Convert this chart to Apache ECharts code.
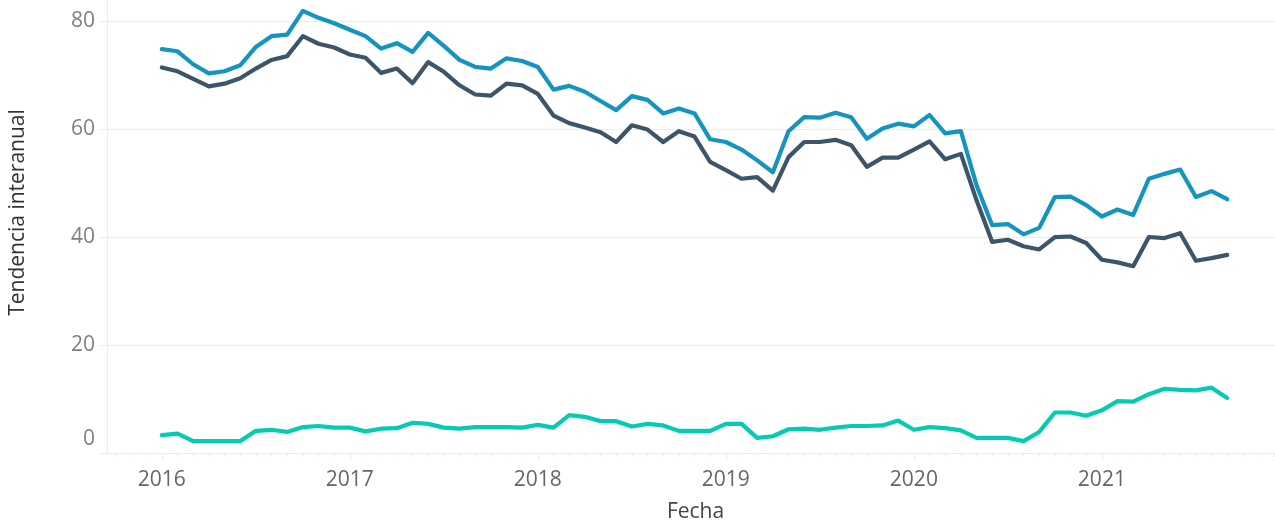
<!DOCTYPE html>
<html>
<head>
<meta charset="utf-8">
<script src="https://cdn.jsdelivr.net/npm/echarts@6/dist/echarts.min.js"></script>
<style>
  html, body { margin: 0; padding: 0; background: #ffffff; }
  #chart { width: 1275px; height: 523px; }
</style>
</head>
<body>
<div id="chart"></div>
<script>
// Monthly observations, Jan 2016 – Sep 2021
const months = [
  '2016-01','2016-02','2016-03','2016-04','2016-05','2016-06','2016-07','2016-08','2016-09','2016-10','2016-11','2016-12',
  '2017-01','2017-02','2017-03','2017-04','2017-05','2017-06','2017-07','2017-08','2017-09','2017-10','2017-11','2017-12',
  '2018-01','2018-02','2018-03','2018-04','2018-05','2018-06','2018-07','2018-08','2018-09','2018-10','2018-11','2018-12',
  '2019-01','2019-02','2019-03','2019-04','2019-05','2019-06','2019-07','2019-08','2019-09','2019-10','2019-11','2019-12',
  '2020-01','2020-02','2020-03','2020-04','2020-05','2020-06','2020-07','2020-08','2020-09','2020-10','2020-11','2020-12',
  '2021-01','2021-02','2021-03','2021-04','2021-05','2021-06','2021-07','2021-08','2021-09'
];

const serieAzul = [
  74.8, 74.4, 72.0, 70.3, 70.7, 71.8, 75.2, 77.2, 77.5, 81.9, 80.6, 79.6,
  78.4, 77.2, 74.9, 75.9, 74.3, 77.8, 75.4, 72.8, 71.5, 71.2, 73.1, 72.6,
  71.5, 67.3, 68.0, 66.9, 65.2, 63.5, 66.1, 65.4, 62.9, 63.8, 62.9, 58.1,
  57.6, 56.2, 54.2, 52.0, 59.6, 62.2, 62.1, 63.0, 62.2, 58.2, 60.1, 61.0,
  60.5, 62.6, 59.2, 59.6, 49.6, 42.2, 42.4, 40.5, 41.7, 47.4, 47.5, 45.9,
  43.8, 45.1, 44.1, 50.8, 51.7, 52.5, 47.4, 48.5, 47.0
];

const serieGris = [
  71.4, 70.7, 69.3, 67.9, 68.4, 69.4, 71.2, 72.8, 73.5, 77.2, 75.8, 75.1,
  73.8, 73.2, 70.4, 71.2, 68.5, 72.4, 70.6, 68.1, 66.4, 66.2, 68.4, 68.1,
  66.5, 62.5, 61.1, 60.3, 59.4, 57.6, 60.7, 59.9, 57.6, 59.6, 58.6, 53.9,
  52.4, 50.8, 51.1, 48.6, 54.8, 57.6, 57.6, 58.0, 57.0, 53.0, 54.7, 54.7,
  56.2, 57.7, 54.4, 55.4, 46.8, 39.1, 39.5, 38.3, 37.7, 40.0, 40.1, 38.9,
  35.8, 35.3, 34.6, 40.0, 39.8, 40.7, 35.6, 36.1, 36.7
];

const serieVerde = [
  3.3, 3.6, 2.2, 2.2, 2.2, 2.2, 4.1, 4.3, 3.9, 4.8, 5.0, 4.7,
  4.7, 4.0, 4.5, 4.6, 5.6, 5.4, 4.7, 4.5, 4.8, 4.8, 4.8, 4.7,
  5.2, 4.7, 7.0, 6.7, 5.9, 5.9, 4.9, 5.4, 5.1, 4.1, 4.1, 4.1,
  5.4, 5.4, 2.8, 3.1, 4.4, 4.5, 4.3, 4.7, 5.0, 5.0, 5.1, 6.0,
  4.3, 4.8, 4.6, 4.2, 2.8, 2.8, 2.8, 2.2, 3.9, 7.5, 7.5, 6.9,
  7.9, 9.6, 9.5, 10.9, 11.9, 11.7, 11.6, 12.1, 10.2
];

const yearLabels = ['2016', '2017', '2018', '2019', '2020', '2021'];
const yTickValues = [0, 20, 40, 60, 80];
const yGridValues = [20, 40, 60, 80];

// months are placed on a numeric axis: 0 = Jan 2016
const baseYear = 2016;
function monthIndex(s) {
  const parts = s.split('-').map(Number);
  return (parts[0] - baseYear) * 12 + (parts[1] - 1);
}
const xs = months.map(monthIndex);
const pair = vals => vals.map((v, i) => [xs[i], v]);

const yearTickPos = yearLabels.map(y => (Number(y) - baseYear) * 12);
const monthTickPos = [];
for (let m = -3; m <= 71; m++) monthTickPos.push(m);

const X_MIN = -3.5, X_MAX = 71.05;
const FONT = "'Open Sans', sans-serif";
const GRID = '#ececec';

const chart = echarts.init(document.getElementById('chart'), null, { renderer: 'canvas' });

const lineStyle = color => ({ color: color, width: 4.2, cap: 'round', join: 'round' });

chart.setOption({
  animation: false,
  backgroundColor: '#ffffff',
  grid: { left: 107, right: 0, top: 0, bottom: 70, containLabel: false, outerBoundsMode: 'none' },
  xAxis: [
    {
      type: 'value',
      min: X_MIN,
      max: X_MAX,
      position: 'bottom',
      name: 'Fecha',
      nameLocation: 'middle',
      nameGap: 49,
      nameTextStyle: { fontFamily: FONT, fontSize: 21, color: '#444444', padding: [0, 0, 0, 9] },
      axisLine: { show: true, onZero: false, lineStyle: { color: GRID, width: 1 } },
      axisTick: { show: true, customValues: monthTickPos, length: 4, lineStyle: { color: GRID, width: 1 } },
      axisLabel: {
        show: true,
        customValues: yearTickPos,
        margin: 17,
        fontFamily: FONT,
        fontSize: 21,
        color: '#666666',
        formatter: v => String(baseYear + Math.round(v / 12))
      },
      splitLine: { show: false }
    },
    {
      // longer ticks on year boundaries
      type: 'value',
      min: X_MIN,
      max: X_MAX,
      position: 'bottom',
      axisLine: { show: false, onZero: false },
      axisTick: { show: true, customValues: yearTickPos, length: 7, lineStyle: { color: GRID, width: 1 } },
      axisLabel: { show: false },
      splitLine: { show: false }
    }
  ],
  yAxis: {
    type: 'value',
    min: 0,
    max: 83.9,
    name: 'Tendencia interanual',
    nameLocation: 'middle',
    nameRotate: 90,
    nameGap: 78,
    nameTextStyle: { fontFamily: FONT, fontSize: 21, color: '#333333', padding: [0, 0, 0, 28] },
    axisLine: { show: true, onZero: false, lineStyle: { color: GRID, width: 1 } },
    axisTick: { show: true, customValues: yTickValues, length: 7, lineStyle: { color: GRID, width: 1 } },
    axisLabel: {
      show: true,
      customValues: yTickValues,
      margin: 12,
      fontFamily: FONT,
      fontSize: 21,
      color: '#808080',
      formatter: v => (v === 0 ? '{z|0}' : String(v)),
      rich: {
        z: { fontFamily: FONT, fontSize: 21, color: '#808080', padding: [0, 0, 27, 0] }
      }
    },
    splitLine: { show: false }
  },
  series: [
    {
      name: 'verde',
      type: 'line',
      xAxisIndex: 0,
      data: pair(serieVerde),
      showSymbol: false,
      lineStyle: lineStyle('#05cbb2'),
      z: 3,
      markLine: {
        silent: true,
        z: 1,
        symbol: 'none',
        label: { show: false },
        lineStyle: { color: GRID, width: 1, type: 'solid' },
        data: yGridValues.map(v => ({ yAxis: v }))
      }
    },
    {
      name: 'gris',
      type: 'line',
      xAxisIndex: 0,
      data: pair(serieGris),
      showSymbol: false,
      lineStyle: lineStyle('#3d5569'),
      z: 3
    },
    {
      name: 'azul',
      type: 'line',
      xAxisIndex: 0,
      data: pair(serieAzul),
      showSymbol: false,
      lineStyle: lineStyle('#1494bf'),
      z: 3
    }
  ]
});
</script>
</body>
</html>
